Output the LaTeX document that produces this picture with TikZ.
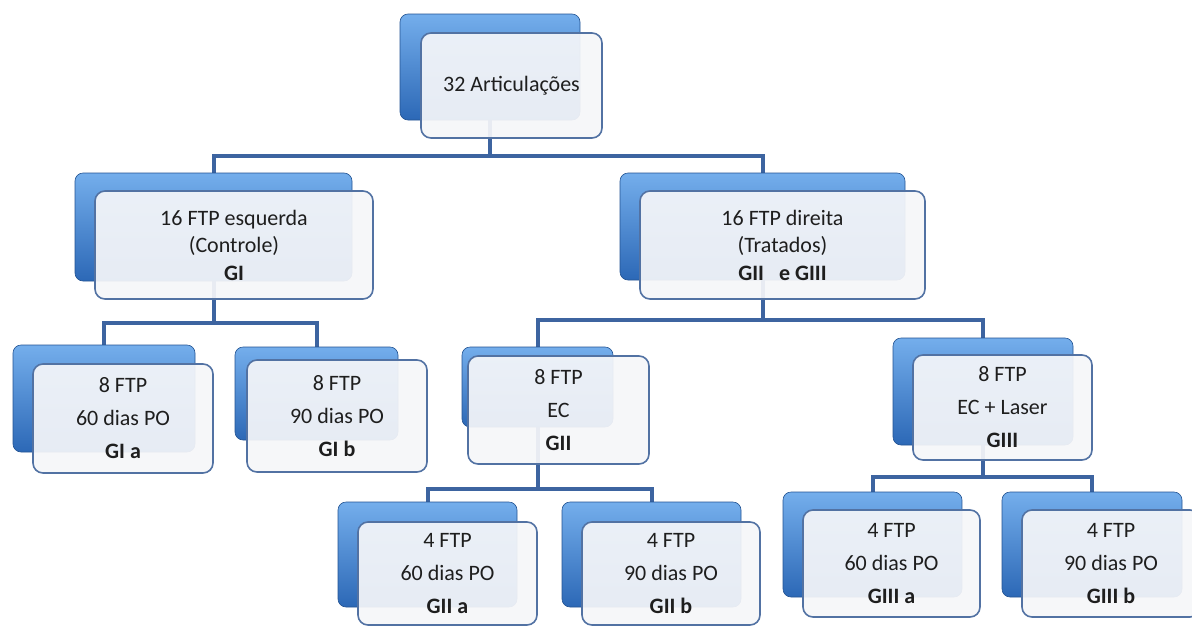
\documentclass[tikz,border=0pt]{standalone}
\usepackage{fontspec}
\setmainfont{Carlito}
\pgfdeclarelayer{bg}
\pgfsetlayers{bg,main}
\definecolor{conncol}{HTML}{3D64A0}
\definecolor{backtop}{HTML}{74AEEC}
\definecolor{backbot}{HTML}{2C68B6}
\definecolor{frontdraw}{HTML}{5272A3}
\definecolor{frontfill}{HTML}{F5F6F9}
\definecolor{textcol}{HTML}{1E1E1E}
\tikzset{
  conn/.style={draw=conncol, line width=4pt},
  backbox/.style={rectangle, rounded corners=8pt, top color=backtop, bottom color=backbot, draw=backbot!80!black, line width=0.6pt, inner sep=0pt},
  frontbox/.style={rectangle, rounded corners=10pt, draw=frontdraw, line width=1.6pt, fill=frontfill, fill opacity=0.93, text opacity=1, align=center, text=textcol, inner sep=0pt, font=\fontsize{22}{33}\selectfont},
  lvlone/.style={font=\fontsize{22}{27.5}\selectfont}
}
\begin{document}
\begin{tikzpicture}[x=1pt,y=-1pt]
\useasboundingbox (0,0) rectangle (1192,627);
\clip (0,0) rectangle (1192,627);
% top
\node[backbox, minimum width=180, minimum height=106] (top-b) at (490,67) {};
\node[frontbox, minimum width=181, minimum height=105] (top) at (511.5,85.5) {32 Articulações};
% level 1
\node[backbox, minimum width=277, minimum height=108] (gi-b) at (213.5,227) {};
\node[frontbox, lvlone, minimum width=278, minimum height=108] (gi) at (234,245) {16 FTP esquerda\\(Controle)\\\textbf{GI}};
\node[backbox, minimum width=285, minimum height=107] (gd-b) at (762.5,226.5) {};
\node[frontbox, lvlone, minimum width=285, minimum height=108] (gd) at (782.5,245) {16 FTP direita\\(Tratados)\\\textbf{GII\ \ \ e GIII}};
% level 2
\node[backbox, minimum width=182, minimum height=107] (gia-b) at (104,398.5) {};
\node[frontbox, minimum width=180, minimum height=109] (gia) at (123,418.5) {8 FTP\\60 dias PO\\\textbf{GI a}};
\node[backbox, minimum width=163, minimum height=93] (gib-b) at (316.5,393.5) {};
\node[frontbox, minimum width=180, minimum height=112] (gib) at (337,416) {8 FTP\\90 dias PO\\\textbf{GI b}};
\node[backbox, minimum width=151, minimum height=80] (gii-b) at (537.5,387) {};
\node[frontbox, minimum width=181, minimum height=108] (gii) at (558.5,410) {8 FTP\\EC\\\textbf{GII}};
\node[backbox, minimum width=180, minimum height=107] (giii-b) at (983,391.5) {};
\node[frontbox, minimum width=179, minimum height=105] (giii) at (1002.5,407.5) {8 FTP\\EC + Laser\\\textbf{GIII}};
% level 3
\node[backbox, minimum width=179, minimum height=105] (giia-b) at (427.5,554.5) {};
\node[frontbox, minimum width=179, minimum height=103] (giia) at (447.5,573.5) {4 FTP\\60 dias PO\\\textbf{GII a}};
\node[backbox, minimum width=179, minimum height=105] (giib-b) at (651.5,554.5) {};
\node[frontbox, minimum width=178, minimum height=103] (giib) at (671,573.5) {4 FTP\\90 dias PO\\\textbf{GII b}};
\node[backbox, minimum width=179, minimum height=105] (giiia-b) at (872.5,544.5) {};
\node[frontbox, minimum width=177, minimum height=107] (giiia) at (891.5,563.5) {4 FTP\\60 dias PO\\\textbf{GIII a}};
\node[backbox, minimum width=180, minimum height=105] (giiib-b) at (1092,544.5) {};
\node[frontbox, minimum width=178, minimum height=107] (giiib) at (1111,563.5) {4 FTP\\90 dias PO\\\textbf{GIII b}};
% bars
\coordinate (bar0) at (0,156);
\coordinate (bar1) at (0,323);
\coordinate (bar2) at (0,320);
\coordinate (bar3) at (0,489);
\coordinate (bar4) at (0,477);
\begin{pgfonlayer}{bg}
\draw[conn] (top-b.south) -- (top-b.south |- bar0) -| (gi-b.north);
\draw[conn] (top-b.south |- bar0) -| (gd-b.north);
\draw[conn] (gi-b.south) -- (gi-b.south |- bar1) -| (gia-b.north);
\draw[conn] (gi-b.south |- bar1) -| (gib-b.north);
\draw[conn] (gd-b.south) -- (gd-b.south |- bar2) -| (gii-b.north);
\draw[conn] (gd-b.south |- bar2) -| (giii-b.north);
\draw[conn] (gii-b.south) -- (gii-b.south |- bar3) -| (giia-b.north);
\draw[conn] (gii-b.south |- bar3) -| (giib-b.north);
\draw[conn] (giii-b.south) -- (giii-b.south |- bar4) -| (giiia-b.north);
\draw[conn] (giii-b.south |- bar4) -| (giiib-b.north);
\end{pgfonlayer}
\end{tikzpicture}
\end{document}
